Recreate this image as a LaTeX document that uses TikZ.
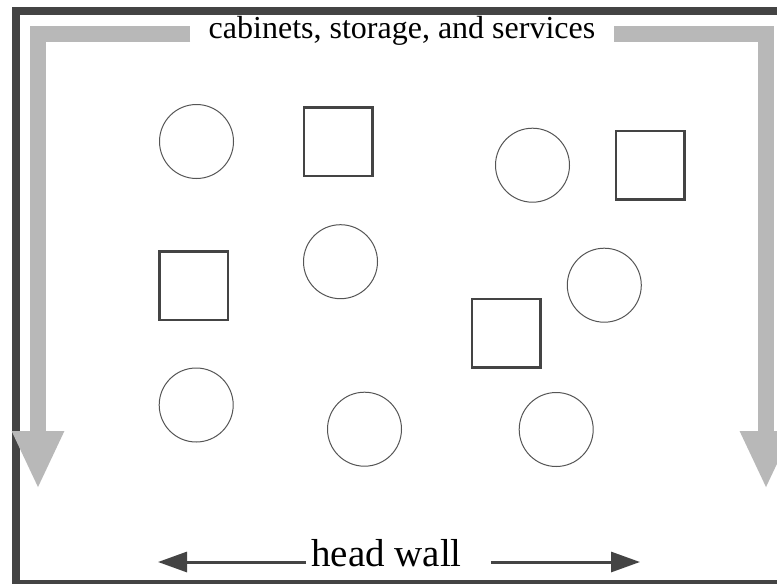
\documentclass[tikz,border=0pt]{standalone}
\usepackage{fontspec}
\setmainfont{Liberation Serif}
\usetikzlibrary{arrows.meta,calc}
\definecolor{framegray}{HTML}{444444}
\definecolor{bargray}{HTML}{B8B8B8}
\definecolor{shapegray}{HTML}{555555}
\begin{document}
\begin{tikzpicture}[x=1pt,y=-1pt,
  frame/.style={draw=framegray,line width=8pt},
  bar/.style={draw=bargray,line width=16pt,-{Triangle[length=58pt,width=48pt]}},
  hwarrow/.style={draw=framegray,line width=3pt,-{Triangle[length=29pt,width=20pt]}},
  roundobj/.style={circle,draw=shapegray,line width=1pt,minimum size=74pt,inner sep=0pt},
  boxobj/.style={rectangle,draw=framegray,line width=2.5pt,minimum size=68.5pt,inner sep=0pt},
  titletext/.style={inner sep=0pt,anchor=base,font=\fontsize{32}{38}\selectfont},
  walltext/.style={inner sep=0pt,anchor=base,font=\fontsize{39}{46}\selectfont}]
\useasboundingbox (0,0) rectangle (777,584);
\clip (0,0) rectangle (777,584);
\fill[white] (0,0) rectangle (777,584);
\draw[frame] (15.5,11) rectangle (781,584);

% title and gray arrows
\node[titletext] (title) at (402,38.3) {cabinets, storage, and services};
\coordinate (lbar) at (190,33.5);
\coordinate (rbar) at (614,33.5);
\coordinate (ltip) at (38,489);
\coordinate (rtip) at (766,489);
\draw[bar] (lbar) -| (ltip);
\draw[bar] (rbar) -| (rtip);

% head wall
\node[walltext] (hw) at (386.5,566.7) {head wall};
\coordinate (hwl) at (158,562);
\coordinate (hwr) at (640,562);
\draw[hwarrow] ($(hw.west |- hwl)+(-5,0)$) -- (hwl);
\draw[hwarrow] ($(hw.east |- hwr)+(29,0)$) -- (hwr);

% objects
\node[roundobj] (c1) at (196.5,141.5) {};
\node[boxobj]   (s1) at (338,141.5) {};
\node[roundobj] (c3) at (532.5,165.2) {};
\node[boxobj]   (s3) at (650,165.3) {};
\node[boxobj]   (s2) at (193.5,285.7) {};
\node[roundobj] (c2) at (340.5,261.7) {};
\node[roundobj] (c4) at (604.3,285.2) {};
\node[boxobj]   (s4) at (506,333.3) {};
\node[roundobj] (c5) at (196.2,405) {};
\node[roundobj] (c6) at (364.5,429.2) {};
\node[roundobj] (c7) at (556.2,429.5) {};
\end{tikzpicture}
\end{document}
